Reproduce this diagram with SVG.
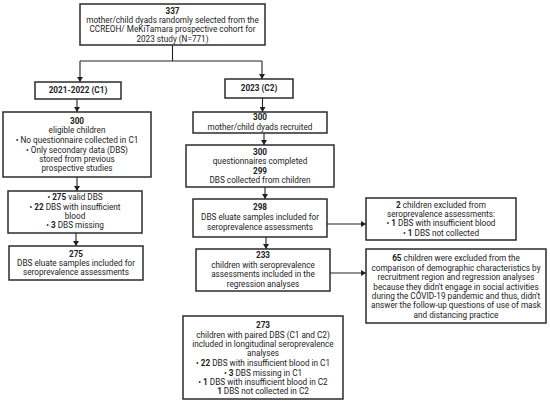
<svg xmlns="http://www.w3.org/2000/svg" width="550" height="404" viewBox="0 0 550 404">
<style>
.box{fill:#fff;stroke:#2b2b2b;stroke-width:1.5}
text{font-family:Roboto,"Liberation Sans",sans-serif;font-size:8.2px;fill:#222;text-anchor:middle}
.b{font-weight:bold}
.c{fill:none;stroke:#222;stroke-width:1.1}
</style>
<defs>
<marker id="ah" markerWidth="6" markerHeight="6" refX="5" refY="3" orient="auto" markerUnits="userSpaceOnUse">
<path d="M0,0 L5,3 L0,6 Z" fill="#222"/>
</marker>
</defs>
<rect width="550" height="404" fill="#fff"/>
<g id="connectors">
<path class="c" d="M172.5,45 V61 M80,61 H262"/>
<path class="c" d="M80,61 V82" marker-end="url(#ah)"/>
<path class="c" d="M262,61 V79" marker-end="url(#ah)"/>
<path class="c" d="M77,99 V112" marker-end="url(#ah)"/>
<path class="c" d="M77,177 V191" marker-end="url(#ah)"/>
<path class="c" d="M76,233 V246" marker-end="url(#ah)"/>
<path class="c" d="M262.5,98 V112" marker-end="url(#ah)"/>
<path class="c" d="M264,133 V145" marker-end="url(#ah)"/>
<path class="c" d="M265,187 V199" marker-end="url(#ah)"/>
<path class="c" d="M266,237 V249" marker-end="url(#ah)"/>
<path class="c" d="M326,224 H366" marker-end="url(#ah)"/>
<path class="c" d="M330,273 H366" marker-end="url(#ah)"/>
</g>
<g id="n_top">
<rect class="box" x="80" y="4" width="185" height="41"/>
<text x="172.5" y="13.8" class="b">337</text>
<text x="172.5" y="23.1">mother/child dyads randomly selected from the</text>
<text x="172.5" y="32.4">CCREOH/ MeKiTamara prospective cohort for</text>
<text x="172.5" y="41.7">2023 study (N=771)</text>
</g>
<g id="n_c1">
<rect class="box" x="35" y="82" width="86" height="17"/>
<text x="78" y="93.4" class="b">2021-2022 (C1)</text>
</g>
<g id="n_c2">
<rect class="box" x="225" y="79" width="68" height="19"/>
<text x="259" y="91.3" class="b">2023 (C2)</text>
</g>
<g id="n_left300">
<rect class="box" x="3" y="112" width="148" height="65"/>
<text x="77" y="123.8" class="b">300</text>
<text x="77" y="133.4">eligible children</text>
<text x="77" y="142.8">•  No questionnaire collected in C1</text>
<text x="77" y="152.6">•  Only secondary data (DBS)</text>
<text x="77" y="161.8">stored from previous</text>
<text x="77" y="170.8">prospective studies</text>
</g>
<g id="n_left275a">
<rect class="box" x="8" y="191" width="134" height="42"/>
<text x="75" y="200.4">•  <tspan class="b">275</tspan> valid DBS</text>
<text x="75" y="209.8">•  <tspan class="b">22</tspan> DBS with insufficient</text>
<text x="75" y="218.8">blood</text>
<text x="75" y="228.4">•  <tspan class="b">3</tspan> DBS missing</text>
</g>
<g id="n_left275b">
<rect class="box" x="9" y="246" width="134" height="34"/>
<text x="76" y="256.8" class="b">275</text>
<text x="76" y="266.1">DBS eluate samples included for</text>
<text x="76" y="275.4">seroprevalence assessments</text>
</g>
<g id="n_recruited">
<rect class="box" x="193" y="112" width="134" height="21"/>
<text x="260" y="120.1" class="b">300</text>
<text x="260" y="130.1">mother/child dyads recruited</text>
</g>
<g id="n_quest">
<rect class="box" x="186" y="145" width="148" height="42"/>
<text x="260" y="154.5" class="b">300</text>
<text x="260" y="164.4">questionnaires completed</text>
<text x="260" y="173.5" class="b">299</text>
<text x="260" y="182.8">DBS collected from children</text>
</g>
<g id="n_298">
<rect class="box" x="193" y="199" width="134" height="38"/>
<text x="260" y="210.1" class="b">298</text>
<text x="260" y="220.4">DBS eluate samples included for</text>
<text x="260" y="230.1">seroprevalence assessments</text>
</g>
<g id="n_233">
<rect class="box" x="196" y="249" width="134" height="42"/>
<text x="263" y="257.8" class="b">233</text>
<text x="263" y="267.5">children with seroprevalence</text>
<text x="263" y="277.1">assessments included in the</text>
<text x="263" y="286.8">regression analyses</text>
</g>
<g id="n_excl2">
<rect class="box" x="366" y="198" width="150" height="42"/>
<text x="441" y="207.8"><tspan class="b">2</tspan> children excluded from</text>
<text x="441" y="216.8">seroprevalence assessments:</text>
<text x="441" y="226.1">•  <tspan class="b">1</tspan> DBS with insufficient blood</text>
<text x="441" y="235.5">•  <tspan class="b">1</tspan> DBS not collected</text>
</g>
<g id="n_excl65">
<rect class="box" x="366" y="249" width="180" height="74"/>
<text x="456" y="261.1"><tspan class="b">65</tspan> children were excluded from the</text>
<text x="456" y="270.5">comparison of demographic characteristics by</text>
<text x="456" y="279.8">recruitment region and regression analyses</text>
<text x="456" y="289.5">because they didn't engage in social activities</text>
<text x="456" y="298.8">during the COVID-19 pandemic and thus, didn't</text>
<text x="456" y="308.1">answer the follow-up questions of use of mask</text>
<text x="456" y="317.5">and distancing practice</text>
</g>
<g id="n_273">
<rect class="box" x="183" y="316" width="160" height="83"/>
<text x="263" y="327.8" class="b">273</text>
<text x="263" y="337.8">children with paired DBS (C1 and C2)</text>
<text x="263" y="346.8">included in longitudinal seroprevalence</text>
<text x="263" y="356.1">analyses</text>
<text x="263" y="366.1">•  <tspan class="b">22</tspan> DBS with insufficient blood in C1</text>
<text x="263" y="375.5">•  <tspan class="b">3</tspan> DBS missing in C1</text>
<text x="263" y="384.8">•  <tspan class="b">1</tspan> DBS with insufficient blood in C2</text>
<text x="263" y="394.1"><tspan class="b">1</tspan> DBS not collected in C2</text>
</g>
</svg>
